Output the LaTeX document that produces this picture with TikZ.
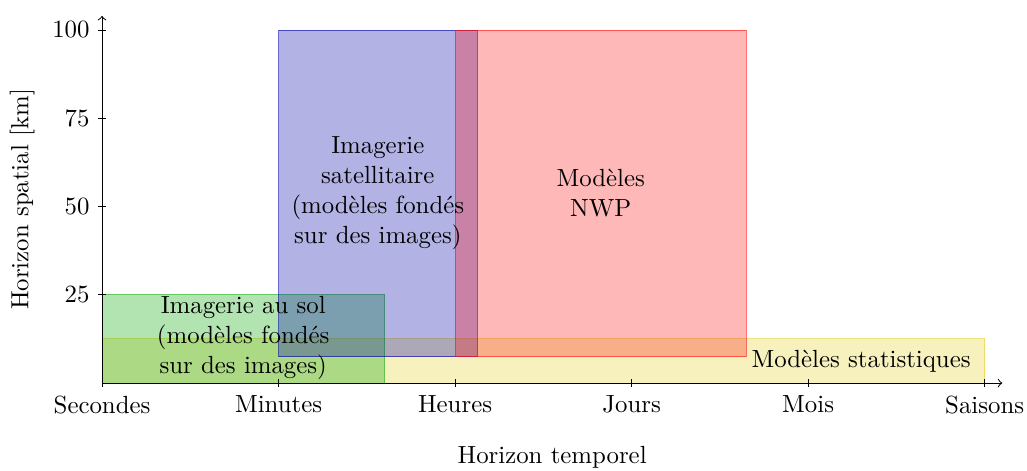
\documentclass[tikz,border=0pt]{standalone}
\usepackage{fontspec}
\definecolor{zblue}{RGB}{0,0,170}
\definecolor{zgreen}{RGB}{0,165,0}
\definecolor{zred}{RGB}{255,20,20}
\definecolor{zyellow}{RGB}{230,208,41}

\begin{document}
\begin{tikzpicture}[x=2.5cm,y=0.05cm,
  zone/.style={fill opacity=0.3,draw opacity=0.6},
  zonetext/.style={align=center}]
\useasboundingbox (-0.578,-24.64) rectangle (5.24,108.5);

% zones
\filldraw[zone,zyellow] (0,0) rectangle (5,12.5);
\filldraw[zone,zgreen] (0,0) rectangle (1.6,25);
\filldraw[zone,zblue] (1,7.5) rectangle (2.125,100);
\filldraw[zone,zred] (2,7.5) rectangle (3.65,100);

% axes
\draw[->] (0,0) -- (5.1,0);
\draw[->] (0,0) -- (0,104);
\foreach \t [count=\i from 0] in {Secondes,Minutes,Heures,Jours,Mois,Saisons}
  \draw (\i,1.5pt) -- (\i,-1.5pt) node[below] (tick\i) {\t};
\foreach \v in {25,50,75,100}
  \draw (1.5pt,\v) -- (-1.5pt,\v) node[left] (val\v) {\v};
\node (xlabel) at (2.55,-21) {Horizon temporel};
\node[rotate=90] (ylabel) at (-0.452,52) {Horizon spatial [km]};

\node[zonetext] (sol) at (0.8,12.7) {Imagerie au sol\\(modèles fondés\\sur des images)};
\node[zonetext] (sat) at (1.5625,53.75) {Imagerie\\satellitaire\\(modèles fondés\\sur des images)};
\node[zonetext] (nwp) at (2.825,53.75) {Modèles\\NWP};
\node (stat) at (4.3,6.25) {Modèles statistiques};
\end{tikzpicture}
\end{document}
